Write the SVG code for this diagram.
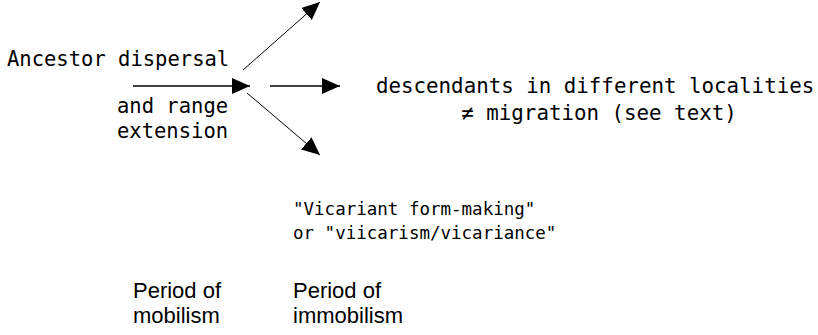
<svg xmlns="http://www.w3.org/2000/svg" width="818" height="335" viewBox="0 0 818 335">
<style>
.mono{font-family:"DejaVu Sans Mono","Liberation Mono",monospace;font-size:20.5px;fill:#000}
.big{font-size:20.8px}
.small{font-size:17.5px}
.sans{font-family:"Liberation Sans",Arial,sans-serif;font-size:22px;fill:#000}
.ln{stroke:#000;fill:none}
</style>
<defs>
<marker id="ah" markerUnits="userSpaceOnUse" markerWidth="19" markerHeight="16" refX="18" refY="8" orient="auto" viewBox="0 0 19 16">
<path d="M0,0 L18,8 L0,16 z" fill="#000"/>
</marker>
</defs>
<rect width="818" height="335" fill="#fff"/>
<g id="connectors">
<line class="ln" x1="133" y1="86" x2="250" y2="86" stroke-width="1.5" marker-end="url(#ah)"/>
<line class="ln" x1="270" y1="86" x2="340" y2="86" stroke-width="1.5" marker-end="url(#ah)"/>
<line class="ln" x1="243" y1="70" x2="320" y2="2" stroke-width="1" marker-end="url(#ah)"/>
<line class="ln" x1="247" y1="93" x2="320" y2="155" stroke-width="1" marker-end="url(#ah)"/>
</g>
<g id="ancestor">
<text class="mono" x="7" y="66">Ancestor dispersal</text>
<text class="mono" x="117" y="113">and range</text>
<text class="mono" x="117" y="138">extension</text>
</g>
<g id="descendants">
<text class="mono big" x="376" y="93">descendants in different localities</text>
<text class="mono big" x="599" y="120" text-anchor="middle">≠ migration (see text)</text>
</g>
<g id="vicariant">
<text class="mono small" x="293" y="215">"Vicariant form-making"</text>
<text class="mono small" x="293" y="239">or "viicarism/vicariance"</text>
</g>
<g id="mobilism">
<text class="sans" x="133" y="298">Period of</text>
<text class="sans" x="133" y="323">mobilism</text>
</g>
<g id="immobilism">
<text class="sans" x="293" y="298">Period of</text>
<text class="sans" x="293" y="323">immobilism</text>
</g>
</svg>
